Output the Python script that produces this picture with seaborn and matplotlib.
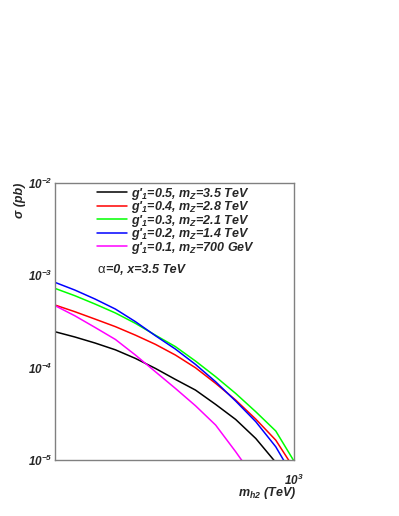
import matplotlib
matplotlib.use("Agg")
import matplotlib.pyplot as plt
import matplotlib.ticker as mticker
import seaborn as sns
import pandas as pd

# m_h2 grid (GeV) and cross sections (pb)
mass = [100, 121, 147, 179, 217, 263, 319, 387, 470, 570, 692, 839, 1000]
sig_g05 = [2.45e-4, 2.15e-4, 1.85e-4, 1.56e-4, 1.26e-4, 9.82e-5, 7.46e-5,
           5.72e-5, 4.00e-5, 2.75e-5, 1.71e-5, 9.41e-6, 5.3e-6]
sig_g04 = [4.77e-4, 4.04e-4, 3.36e-4, 2.78e-4, 2.25e-4, 1.79e-4, 1.37e-4,
           9.98e-5, 6.76e-5, 4.46e-5, 2.77e-5, 1.64e-5, 8.1e-6]
sig_g03 = [7.22e-4, 6.02e-4, 4.89e-4, 3.91e-4, 3.02e-4, 2.25e-4, 1.69e-4,
           1.18e-4, 7.98e-5, 5.26e-5, 3.33e-5, 2.06e-5, 9.73e-6]
sig_g02 = [8.39e-4, 6.93e-4, 5.54e-4, 4.31e-4, 3.15e-4, 2.22e-4, 1.59e-4,
           1.085e-4, 7.04e-5, 4.35e-5, 2.60e-5, 1.39e-5, 6.4e-6]
sig_g01 = [4.70e-4, 3.65e-4, 2.73e-4, 2.02e-4, 1.37e-4, 9.04e-5, 5.96e-5,
           3.87e-5, 2.39e-5, 1.23e-5, 6.05e-6, 3.0e-6, 1.5e-6]

labels = [r"g'$_1$=0.5, m$_Z$=3.5 TeV",
          r"g'$_1$=0.4, m$_Z$=2.8 TeV",
          r"g'$_1$=0.3, m$_Z$=2.1 TeV",
          r"g'$_1$=0.2, m$_Z$=1.4 TeV",
          r"g'$_1$=0.1, m$_Z$=700 GeV"]
colors = ["#000000", "#ff0000", "#00ff00", "#0000ff", "#ff00ff"]
series = [sig_g05, sig_g04, sig_g03, sig_g02, sig_g01]

rows = []
for lab, vals in zip(labels, series):
    for m, s in zip(mass, vals):
        rows.append({"mass": m, "sigma": s, "curve": lab})
df = pd.DataFrame(rows)

sns.set_theme(style="white")
font = "Liberation Sans"
plt.rcParams["font.family"] = [font, "DejaVu Sans"]
plt.rcParams["font.weight"] = "bold"
plt.rcParams["font.style"] = "italic"
plt.rcParams["mathtext.fontset"] = "custom"
plt.rcParams["mathtext.rm"] = font + ":bold:italic"
plt.rcParams["mathtext.it"] = font + ":bold:italic"
plt.rcParams["mathtext.bf"] = font + ":bold:italic"

fig = plt.figure(figsize=(3.99, 5.16), dpi=100)
ax = fig.add_axes([55 / 399, 56 / 516, 239 / 399, 277 / 516])

sns.lineplot(data=df, x="mass", y="sigma", hue="curve", hue_order=labels,
             palette=dict(zip(labels, colors)), linewidth=1.1, ax=ax,
             sort=False)

ax.set_xscale("log")
ax.set_yscale("log")
ax.set_xlim(100, 1000)
ax.set_ylim(1e-5, 1e-2)
ax.set_xlabel("")
ax.set_ylabel("")

frame = "#808080"
for sp in ax.spines.values():
    sp.set_color(frame)
    sp.set_linewidth(1.0)

ax.xaxis.set_major_locator(mticker.FixedLocator([1000]))
ax.xaxis.set_major_formatter(mticker.FixedFormatter([r"$10^3$"]))
ax.xaxis.set_minor_locator(mticker.FixedLocator([200, 300, 400, 500, 600, 700, 800, 900]))
ax.xaxis.set_minor_formatter(mticker.NullFormatter())
ax.yaxis.set_major_locator(mticker.FixedLocator([1e-5, 1e-4, 1e-3, 1e-2]))
ax.yaxis.set_major_formatter(mticker.FixedFormatter(
    [r"$10^{-5}$", r"$10^{-4}$", r"$10^{-3}$", r"$10^{-2}$"]))
ax.yaxis.set_minor_locator(mticker.LogLocator(base=10, subs=range(2, 10)))
ax.yaxis.set_minor_formatter(mticker.NullFormatter())

ax.tick_params(axis="both", which="both", direction="in", color=frame,
               labelsize=8.5, top=False, right=False)
ax.tick_params(axis="y", which="major", length=7, pad=2)
ax.tick_params(axis="y", which="minor", length=4)
ax.tick_params(axis="x", which="major", length=0, pad=9)
ax.tick_params(axis="x", which="minor", length=3)

ax.legend(loc="upper left", bbox_to_anchor=(0.176, 0.99), frameon=False,
          fontsize=9, handlelength=2.4, handletextpad=0.3, labelspacing=-0.2,
          borderpad=0, borderaxespad=0)

ax.text(0.176, 0.686, "α", transform=ax.transAxes, fontsize=9.5,
        fontweight="normal", fontstyle="normal", va="center", ha="left")
ax.text(0.212, 0.686, "=0, x=3.5 TeV", transform=ax.transAxes, fontsize=9,
        va="center", ha="left")

fig.text(20 / 399, 1 - 183 / 516, "σ (pb)", rotation=90, ha="center",
         va="top", fontsize=9)
fig.text(296 / 399, 1 - 493 / 516, r"m$_{h2}$ (TeV)", ha="right",
         va="center", fontsize=9)

fig.savefig("out.png", dpi=100, facecolor="white")
